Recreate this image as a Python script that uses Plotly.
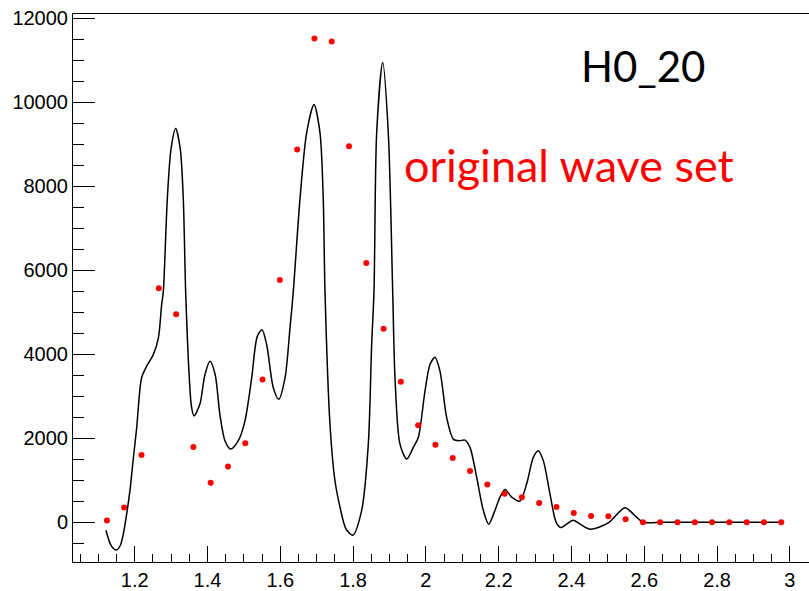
import plotly.graph_objects as go

# Red points (bin centres and values)
pt_x = [1.12375, 1.17125, 1.21875, 1.26625, 1.31375, 1.36125, 1.40875, 1.45625,
        1.50375, 1.55125, 1.59875, 1.64625, 1.69375, 1.74125, 1.78875, 1.83625,
        1.88375, 1.93125, 1.97875, 2.02625, 2.07375, 2.12125, 2.16875, 2.21625,
        2.26375, 2.31125, 2.35875, 2.40625, 2.45375, 2.50125, 2.54875, 2.59625,
        2.64375, 2.69125, 2.73875, 2.78625, 2.83375, 2.88125, 2.92875, 2.97625]
pt_y = [40, 350, 1600, 5570, 4950, 1790, 940, 1325,
        1880, 3400, 5770, 8875, 11517, 11446, 8950, 6170,
        4606, 3344, 2310, 1846, 1529, 1221, 899, 677,
        592, 457, 362, 220, 150, 142, 71, 0,
        0, 0, 0, 0, 0, 0, 0, 0]

# Black curve (traced)
cv_x = [1.121, 1.135, 1.149, 1.160, 1.169, 1.178, 1.187, 1.196, 1.2055, 1.219,
        1.233, 1.251, 1.265, 1.274, 1.2786, 1.2896, 1.300, 1.3126, 1.325, 1.3335,
        1.340, 1.350, 1.356, 1.363, 1.379, 1.393, 1.407, 1.421, 1.434, 1.448,
        1.4637, 1.4846, 1.503, 1.5214, 1.5368, 1.5497, 1.5626, 1.5808, 1.5956, 1.613,
        1.6266, 1.6357, 1.6541, 1.6725, 1.6926, 1.709, 1.718, 1.7228, 1.7365, 1.750,
        1.764, 1.780, 1.799, 1.8236, 1.8418, 1.851, 1.8574, 1.8648, 1.8813, 1.8967,
        1.9088, 1.9151, 1.9288, 1.9473, 1.9654, 1.9791, 1.9975, 2.0113, 2.025, 2.0387,
        2.0571, 2.0753, 2.0918, 2.1074, 2.1212, 2.1395, 2.1577, 2.1725, 2.1898, 2.2036,
        2.2173, 2.2357, 2.2585, 2.2769, 2.2951, 2.3088, 2.3226, 2.3409, 2.3574, 2.3703,
        2.3884, 2.405, 2.4214, 2.4508, 2.5011, 2.547, 2.575, 2.5973, 2.65, 2.75,
        2.85, 2.976]
cv_y = [-190, -550, -663, -560, -270, 200, 757, 1500, 2255, 3439,
        3716, 3990, 4386, 5174, 5491, 7700, 8900, 9373, 8900, 7700,
        5491, 3439, 2750, 2533, 2807, 3517, 3834, 3517, 2570, 1941,
        1742, 1941, 2414, 3439, 4426, 4582, 4227, 3202, 2926, 3439,
        4622, 5491, 7700, 9278, 9948, 9278, 7700, 5491, 2333, 1000,
        362, -150, -308, 284, 1860, 4227, 5491, 9278, 10950, 9278,
        5491, 3439, 1860, 1505, 1782, 2019, 3124, 3754, 3929, 3598,
        2492, 1979, 1941, 1955, 1782, 1072, 284, -47, 284, 599,
        781, 599, 504, 914, 1546, 1704, 1467, 677, 7, -128,
        -33, 50, -33, -166, -17, 346, 150, 0, 0, 0,
        0, 0]

fig = go.Figure()
fig.add_trace(go.Scatter(x=cv_x, y=cv_y, mode="lines",
                         line=dict(color="black", width=1.5, shape="spline", smoothing=0.8),
                         showlegend=False, hoverinfo="skip"))
fig.add_trace(go.Scatter(x=pt_x, y=pt_y, mode="markers",
                         marker=dict(color="#ff0000", size=6),
                         showlegend=False))

axis_font = dict(family="Liberation Sans, Arial, sans-serif", size=20, color="black")
fig.update_layout(
    width=809, height=591,
    margin=dict(l=73, r=0, t=14, b=26, pad=0),
    paper_bgcolor="white", plot_bgcolor="white",
    xaxis=dict(range=[1.0305, 3.0525], showgrid=False, zeroline=False,
               showline=True, linecolor="black", linewidth=1, mirror=True,
               ticks="inside", ticklen=16, tickcolor="black", tickwidth=1,
               dtick=0.2, tick0=0, tickfont=axis_font,
               minor=dict(dtick=0.05, tick0=0, ticks="inside", ticklen=8,
                          tickcolor="black", tickwidth=1, showgrid=False)),
    yaxis=dict(range=[-947, 12102], showgrid=False, zeroline=False,
               showline=True, linecolor="black", linewidth=1,
               ticks="inside", ticklen=22, tickcolor="black", tickwidth=1,
               dtick=2000, tick0=0, tickformat="d", tickfont=axis_font,
               minor=dict(dtick=500, tick0=0, ticks="inside", ticklen=11,
                          tickcolor="black", tickwidth=1, showgrid=False)),
    annotations=[
        dict(text="H0_20", xref="paper", yref="paper", x=0.687, y=0.905,
             xanchor="left", yanchor="middle", showarrow=False,
             font=dict(family="Lato", size=42, color="black")),
        dict(text="original wave set", xref="paper", yref="paper", x=0.447, y=0.725,
             xanchor="left", yanchor="middle", showarrow=False,
             font=dict(family="Lato", size=45, color="#ff0000")),
    ],
)

fig.write_html("out.html")
